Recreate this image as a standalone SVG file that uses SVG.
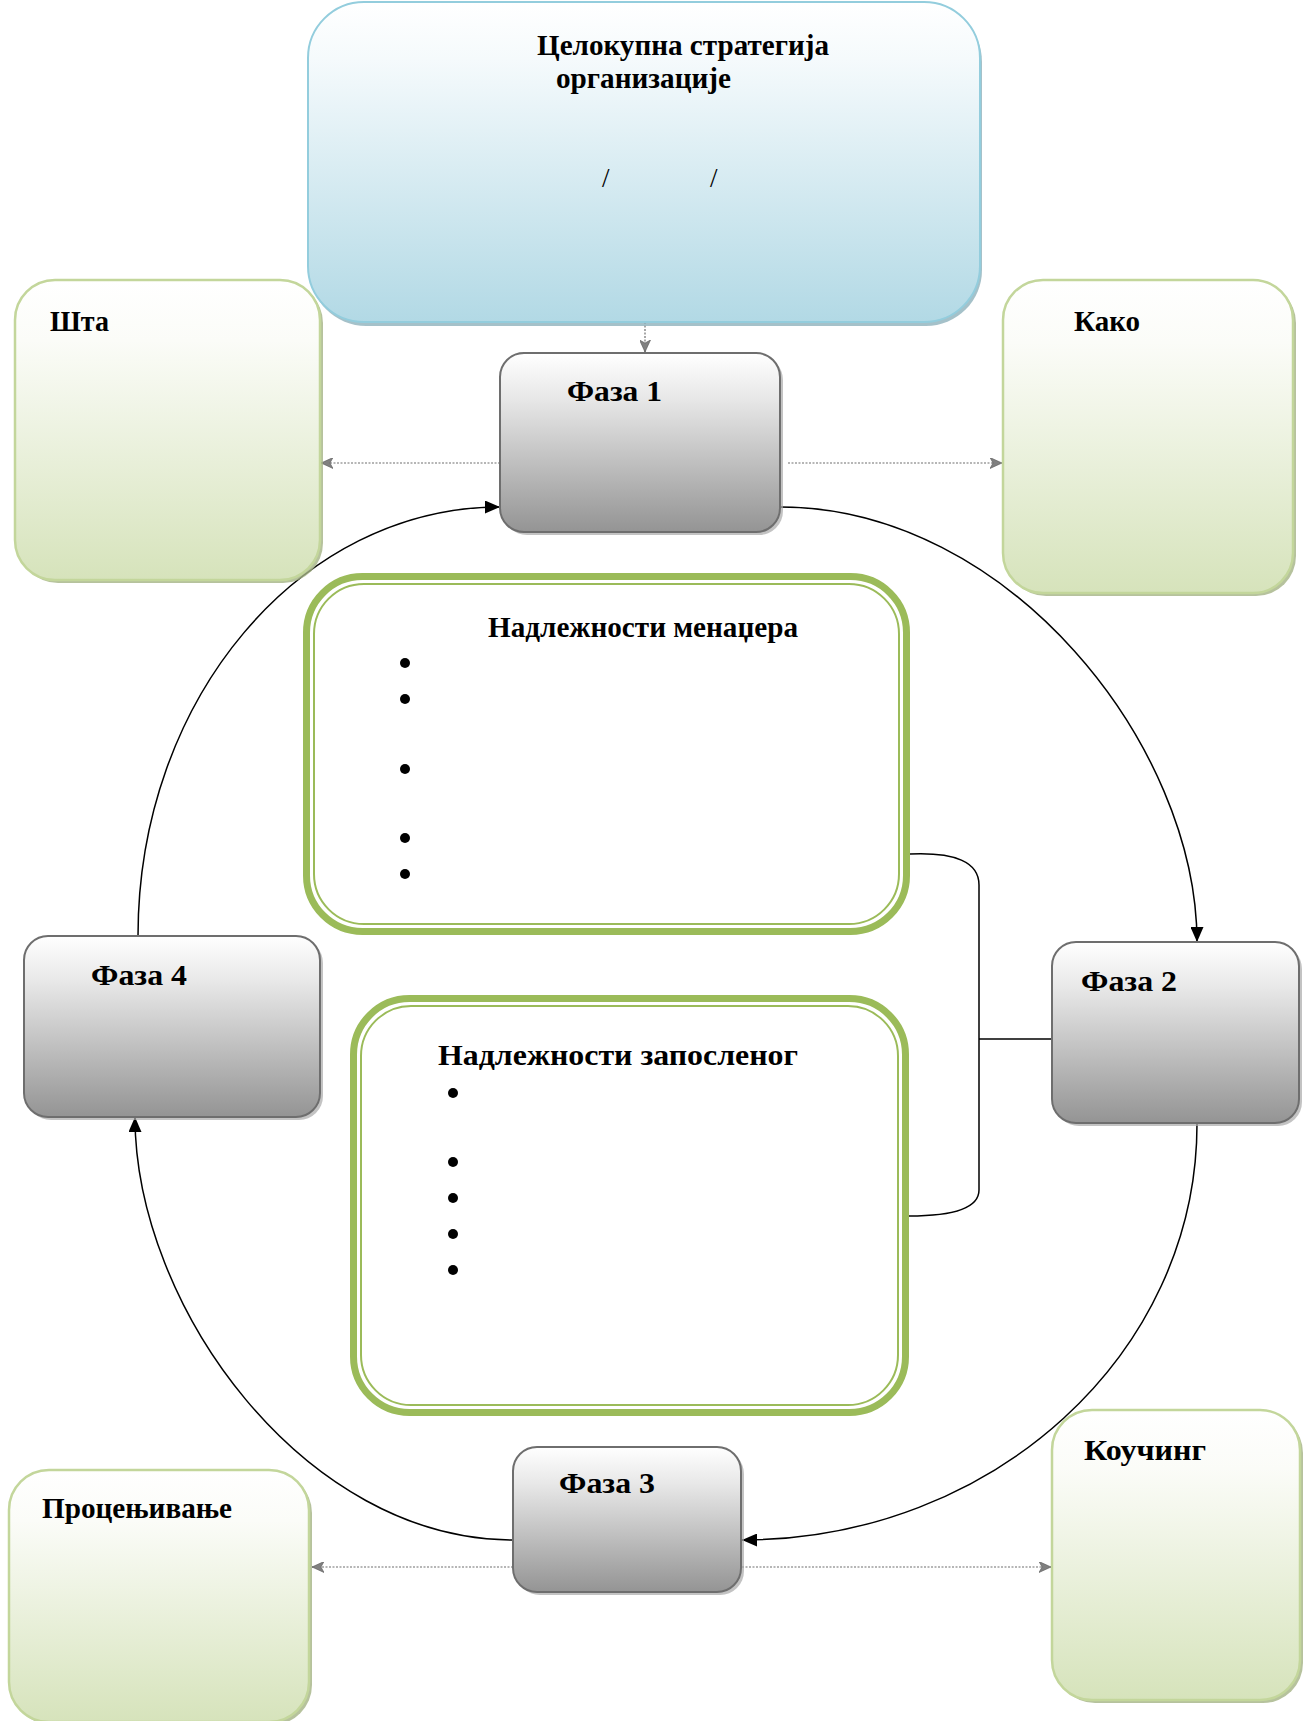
<svg xmlns="http://www.w3.org/2000/svg" width="1306" height="1721" viewBox="0 0 1306 1721">
<style>
  .t { font-family: "Liberation Serif", "Times New Roman", serif; font-weight: bold; font-size: 30px; fill: #000; }
  .sl { font-family: "Liberation Serif", "Times New Roman", serif; font-size: 27px; fill: #000; }
  .phase { fill: url(#gGray); stroke: #6e6e6e; stroke-width: 2; }
  .side { fill: url(#gGreen); stroke: #c3d69b; stroke-width: 2.5; }
  .shG { fill: #a9a9a9; opacity: 0.7; }
  .shS { fill: #a4b385; opacity: 0.8; }
  .comp1 { fill: #fff; stroke: #9bbb59; stroke-width: 7; }
  .comp2 { fill: none; stroke: #9bbb59; stroke-width: 2; }
  .arc { fill: none; stroke: #000; stroke-width: 1.5; }
  .dash { fill: none; stroke: #6f6f6f; stroke-width: 1.2; stroke-dasharray: 2 1.5; }
  .bul { fill: #000; }
</style>
<defs>
  <linearGradient id="gBlue" x1="0" y1="0" x2="0" y2="1">
    <stop offset="0" stop-color="#ffffff"/>
    <stop offset="0.18" stop-color="#f5fafc"/>
    <stop offset="1" stop-color="#b2d9e5"/>
  </linearGradient>
  <linearGradient id="gGray" x1="0" y1="0" x2="0" y2="1">
    <stop offset="0" stop-color="#ffffff"/>
    <stop offset="0.25" stop-color="#e8e8e8"/>
    <stop offset="1" stop-color="#949494"/>
  </linearGradient>
  <linearGradient id="gGreen" x1="0" y1="0" x2="0" y2="1">
    <stop offset="0" stop-color="#ffffff"/>
    <stop offset="0.2" stop-color="#fbfcf8"/>
    <stop offset="1" stop-color="#d6e3bb"/>
  </linearGradient>
  <pattern id="hatch" width="2" height="2" patternUnits="userSpaceOnUse">
    <rect width="2" height="2" fill="#bbbbbb"/>
    <rect width="1" height="1" fill="#444"/>
    <rect x="1" y="1" width="1" height="1" fill="#444"/>
  </pattern>
  <marker id="aBlack" markerUnits="userSpaceOnUse" markerWidth="16" markerHeight="13" refX="15" refY="6.5" orient="auto">
    <path d="M0,0 L15,6.5 L0,13 Z" fill="#000"/>
  </marker>
  <marker id="aGray" markerUnits="userSpaceOnUse" markerWidth="13" markerHeight="11" refX="12" refY="5.5" orient="auto">
    <path d="M0,0 L12,5.5 L0,11 L3,5.5 Z" fill="url(#hatch)" stroke="#555" stroke-width="0.6"/>
  </marker>
</defs>
<rect width="1306" height="1721" fill="#fff"/>

<!-- connectors -->
<g id="connectors">
  <path class="dash" d="M645,322 L645,352" marker-end="url(#aGray)"/>
  <path class="dash" d="M500,463 L321,463" marker-end="url(#aGray)"/>
  <path class="dash" d="M788,463 L1002,463" marker-end="url(#aGray)"/>
  <path class="dash" d="M513,1567 L312,1567" marker-end="url(#aGray)"/>
  <path class="dash" d="M742,1567 L1051,1567" marker-end="url(#aGray)"/>
  <path class="arc" d="M780,507 C1009,507 1197,746 1197,942" marker-end="url(#aBlack)"/>
  <path class="arc" d="M1197,1124 C1197,1354 993,1540 742,1540" marker-end="url(#aBlack)"/>
  <path class="arc" d="M513,1540 C304,1540 135,1306 135,1117" marker-end="url(#aBlack)"/>
  <path class="arc" d="M138,936 C138,699 300,507 500,507" marker-end="url(#aBlack)"/>
  <path class="arc" d="M910,854 C955,852 979,862 979,885 L979,1190 C979,1208 955,1216 909,1216"/>
  <path class="arc" d="M979,1039 L1052,1039"/>
</g>

<!-- strategy -->
<g id="strategy">
  <rect x="310" y="6" width="672" height="320" rx="56" fill="#8fb1bc" opacity="0.8"/>
  <rect x="308" y="2" width="672" height="320" rx="56" fill="url(#gBlue)" stroke="#93cddd" stroke-width="2"/>
  <text class="t" x="537" y="55" textLength="292" lengthAdjust="spacingAndGlyphs">Целокупна стратегија</text>
  <text class="t" x="556" y="88" textLength="175" lengthAdjust="spacingAndGlyphs">организације</text>
  <text class="sl" x="602" y="187">/</text>
  <text class="sl" x="710" y="187">/</text>
</g>

<!-- phase 1 -->
<g id="phase1">
  <rect class="shG" x="503" y="356" width="280" height="179" rx="24"/>
  <rect class="phase" x="500" y="353" width="280" height="179" rx="24"/>
  <text class="t" x="567" y="401" textLength="95" lengthAdjust="spacingAndGlyphs">Фаза 1</text>
</g>

<!-- sta -->
<g id="sta">
  <rect class="shS" x="18" y="283" width="305" height="300" rx="40"/>
  <rect class="side" x="15" y="280" width="305" height="300" rx="40"/>
  <text class="t" x="50" y="331" textLength="59" lengthAdjust="spacingAndGlyphs">Шта</text>
</g>

<!-- kako -->
<g id="kako">
  <rect class="shS" x="1006" y="283" width="290" height="313" rx="40"/>
  <rect class="side" x="1003" y="280" width="290" height="313" rx="40"/>
  <text class="t" x="1074" y="331" textLength="66" lengthAdjust="spacingAndGlyphs">Како</text>
</g>

<!-- manager competencies -->
<g id="manager">
  <rect class="comp1" x="306.5" y="576.5" width="600" height="355" rx="56"/>
  <rect class="comp2" x="314" y="584" width="585" height="340" rx="50"/>
  <text class="t" x="488" y="637" textLength="310" lengthAdjust="spacingAndGlyphs">Надлежности менаџера</text>
  <circle class="bul" cx="405" cy="663" r="5"/>
  <circle class="bul" cx="405" cy="699" r="5"/>
  <circle class="bul" cx="405" cy="769" r="5"/>
  <circle class="bul" cx="405" cy="838" r="5"/>
  <circle class="bul" cx="405" cy="874" r="5"/>
</g>

<!-- employee competencies -->
<g id="employee">
  <rect class="comp1" x="353.5" y="998.5" width="552" height="414" rx="56"/>
  <rect class="comp2" x="361" y="1006" width="537" height="399" rx="50"/>
  <text class="t" x="438" y="1065" textLength="360" lengthAdjust="spacingAndGlyphs">Надлежности запосленог</text>
  <circle class="bul" cx="453" cy="1093" r="5"/>
  <circle class="bul" cx="453" cy="1162" r="5"/>
  <circle class="bul" cx="453" cy="1198" r="5"/>
  <circle class="bul" cx="453" cy="1234" r="5"/>
  <circle class="bul" cx="453" cy="1270" r="5"/>
</g>

<!-- phase 4 -->
<g id="phase4">
  <rect class="shG" x="27" y="939" width="296" height="181" rx="24"/>
  <rect class="phase" x="24" y="936" width="296" height="181" rx="24"/>
  <text class="t" x="91" y="985" textLength="96" lengthAdjust="spacingAndGlyphs">Фаза 4</text>
</g>

<!-- phase 2 -->
<g id="phase2">
  <rect class="shG" x="1055" y="945" width="247" height="181" rx="24"/>
  <rect class="phase" x="1052" y="942" width="247" height="181" rx="24"/>
  <text class="t" x="1081" y="991" textLength="96" lengthAdjust="spacingAndGlyphs">Фаза 2</text>
</g>

<!-- phase 3 -->
<g id="phase3">
  <rect class="shG" x="516" y="1450" width="228" height="145" rx="24"/>
  <rect class="phase" x="513" y="1447" width="228" height="145" rx="24"/>
  <text class="t" x="559" y="1493" textLength="96" lengthAdjust="spacingAndGlyphs">Фаза 3</text>
</g>

<!-- assessment -->
<g id="assessment">
  <rect class="shS" x="12" y="1473" width="300" height="252" rx="40"/>
  <rect class="side" x="9" y="1470" width="300" height="252" rx="40"/>
  <text class="t" x="42" y="1518" textLength="190" lengthAdjust="spacingAndGlyphs">Процењивање</text>
</g>

<!-- coaching -->
<g id="coaching">
  <rect class="shS" x="1055" y="1413" width="248" height="290" rx="40"/>
  <rect class="side" x="1052" y="1410" width="248" height="290" rx="40"/>
  <text class="t" x="1084" y="1460" textLength="122" lengthAdjust="spacingAndGlyphs">Коучинг</text>
</g>
</svg>
